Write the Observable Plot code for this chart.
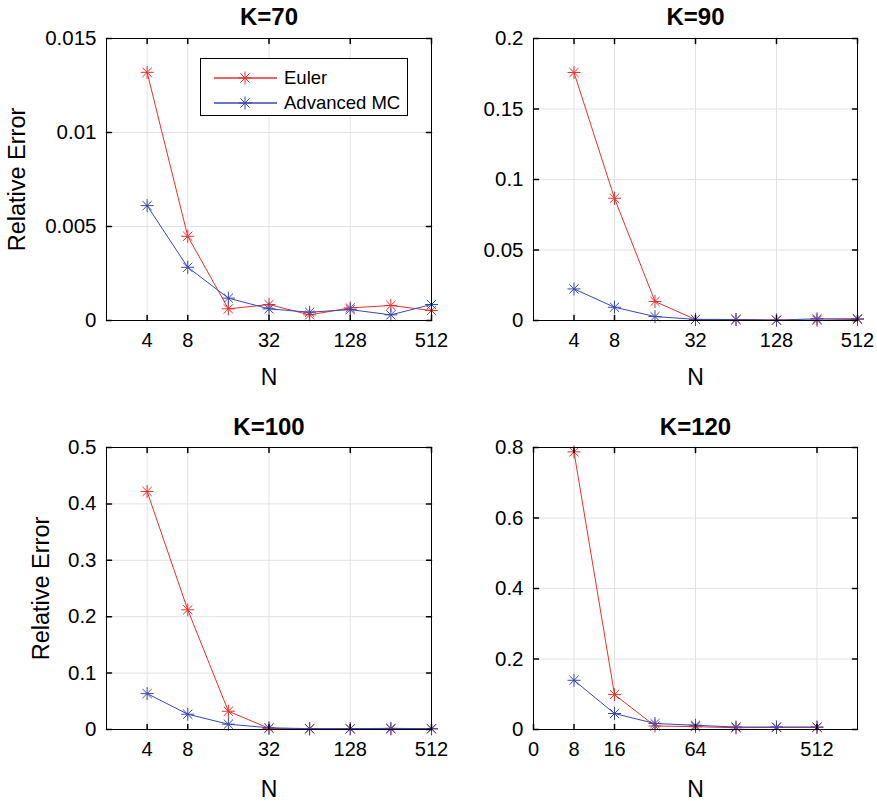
<!DOCTYPE html>
<html>
<head>
<meta charset="utf-8">
<script src="https://cdn.jsdelivr.net/npm/d3@7"></script>
<script src="https://cdn.jsdelivr.net/npm/@observablehq/plot@0.6"></script>
<style>
  html, body { margin: 0; padding: 0; background: white; }
  #root { position: relative; width: 877px; height: 801px; overflow: hidden; font-family: "Liberation Sans", Arial, sans-serif; }
  .panel { position: absolute; }
  #legend { position: absolute; left: 200px; top: 58px; width: 206px; height: 56px; border: 1px solid #000; background: #fff; }
  .lrow { position: absolute; left: 0; height: 24px; display: flex; align-items: center; font-size: 18.5px; color: #000; }
  .lrow svg { margin-left: 13px; margin-right: 6px; }
</style>
</head>
<body>
<div id="root"></div>
<script>
// ---------------- data ----------------
const seriesNames = ["Euler", "Advanced MC"];
const seriesColors = ["#e8302a", "#3748b2"];

const nMain = [4, 8, 16, 32, 64, 128, 256, 512];
const nK120 = [8, 16, 32, 64, 128, 256, 512];

const euler70 = [0.0132, 0.00448, 0.00062, 0.00085, 0.0003, 0.00067, 0.0008, 0.00053];
const mc70    = [0.00611, 0.00283, 0.00119, 0.00062, 0.00044, 0.00058, 0.0003, 0.00085];

const euler90 = [0.1759, 0.0867, 0.0135, 0.0007, 0.0007, 0.0002, 0.0002, 0.0008];
const mc90    = [0.0224, 0.0094, 0.0028, 0.0008, 0.0007, 0.0003, 0.0012, 0.0012];

const euler100 = [0.422, 0.2122, 0.0324, 0.002, 0.001, 0.001, 0.001, 0.001];
const mc100    = [0.0637, 0.0271, 0.0094, 0.003, 0.0015, 0.0015, 0.002, 0.0015];

const euler120 = [0.7876, 0.099, 0.010, 0.008, 0.005, 0.006, 0.006];
const mc120    = [0.1396, 0.0453, 0.017, 0.012, 0.007, 0.007, 0.007];

const xTicksMain = [4, 8, 32, 128, 512];
const xTickLabelsMain = ["4", "8", "32", "128", "512"];
const xTicksK120 = [4, 8, 16, 64, 512];
const xTickLabelsK120 = ["0", "8", "16", "64", "512"];

const yTicks70 = [0, 0.005, 0.01, 0.015];
const yTicks90 = [0, 0.05, 0.1, 0.15, 0.2];
const yTicks100 = [0, 0.1, 0.2, 0.3, 0.4, 0.5];
const yTicks120 = [0, 0.2, 0.4, 0.6, 0.8];

const titles = ["K=70", "K=90", "K=100", "K=120"];
const xLabel = "N";
const yLabel = "Relative Error";

// ---------------- helpers ----------------
const asterisk = {
  draw(ctx, size) {
    const r = Math.sqrt(size / Math.PI);
    const d = r * Math.SQRT1_2;
    ctx.moveTo(-r, 0); ctx.lineTo(r, 0);
    ctx.moveTo(0, -r); ctx.lineTo(0, r);
    ctx.moveTo(-d, -d); ctx.lineTo(d, d);
    ctx.moveTo(-d, d); ctx.lineTo(d, -d);
  }
};
const tickShape = { draw(ctx, l) { ctx.moveTo(0, 0); ctx.lineTo(0, -l); } };

function rows(ns, e, m) {
  const out = [];
  ns.forEach((n, i) => out.push({N: n, v: e[i], s: seriesNames[0]}));
  ns.forEach((n, i) => out.push({N: n, v: m[i], s: seriesNames[1]}));
  return out;
}

function panel(cfg) {
  const {ns, e, m, xDomain, xTicks, xLabels, yTicks, title, showYLabel,
         width, height, mt, mb, ml, mr, titleDy, yLabelDx, nDy} = cfg;
  const data = rows(ns, e, m);
  const fmtX = d => xLabels[xTicks.indexOf(d)];
  const fmtY = d => d === 0 ? "0" : String(+d.toFixed(4));
  const marks = [
    Plot.gridX(xTicks, {stroke: "#e2e2e2", strokeOpacity: 1}),
    Plot.gridY(yTicks, {stroke: "#e2e2e2", strokeOpacity: 1}),
    Plot.line(data, {x: "N", y: "v", z: "s", stroke: "s", strokeWidth: 1}),
    Plot.dot(data, {x: "N", y: "v", stroke: "s", fill: "none", symbol: asterisk, r: 6.5, strokeWidth: 1}),
    Plot.frame({stroke: "#000", strokeWidth: 1}),
    Plot.vector(xTicks, {x: d => d, frameAnchor: "bottom", rotate: 0, anchor: "start", length: 5, shape: tickShape, stroke: "#000"}),
    Plot.vector(xTicks, {x: d => d, frameAnchor: "top", rotate: 180, anchor: "start", length: 5, shape: tickShape, stroke: "#000"}),
    Plot.vector(yTicks, {y: d => d, frameAnchor: "left", rotate: 90, anchor: "start", length: 5, shape: tickShape, stroke: "#000"}),
    Plot.vector(yTicks, {y: d => d, frameAnchor: "right", rotate: -90, anchor: "start", length: 5, shape: tickShape, stroke: "#000"}),
    Plot.axisX({ticks: xTicks, tickFormat: fmtX, tickSize: 0, tickPadding: 12, fontSize: 20, label: null, fill: "#000"}),
    Plot.axisY({ticks: yTicks, tickFormat: fmtY, tickSize: 0, tickPadding: 10, fontSize: 20.5, label: null, fill: "#000"}),
    Plot.text([title], {frameAnchor: "top", dy: titleDy, fontWeight: "bold", fontSize: 24, lineAnchor: "middle", fill: "#000"}),
    Plot.text([xLabel], {frameAnchor: "bottom", dy: nDy, fontSize: 23, lineAnchor: "middle", fill: "#000"})
  ];
  if (showYLabel) {
    marks.push(Plot.text([yLabel], {frameAnchor: "left", textAnchor: "middle", dx: yLabelDx, rotate: -90, fontSize: 23.5, lineAnchor: "middle", fill: "#000"}));
  }
  return Plot.plot({
    width, height,
    marginTop: mt, marginBottom: mb, marginLeft: ml, marginRight: mr,
    style: {fontFamily: '"Liberation Sans", Arial, sans-serif', background: "white", overflow: "visible"},
    x: {type: "log", base: 2, domain: xDomain},
    y: {type: "linear", domain: [yTicks[0], yTicks[yTicks.length - 1]]},
    color: {domain: seriesNames, range: seriesColors},
    marks
  });
}

const root = document.getElementById("root");
function place(node, left, top) {
  const d = document.createElement("div");
  d.className = "panel";
  d.style.left = left + "px";
  d.style.top = top + "px";
  d.appendChild(node);
  root.appendChild(d);
}

place(panel({ns: nMain, e: euler70, m: mc70, xDomain: [2, 512], xTicks: xTicksMain, xLabels: xTickLabelsMain,
  yTicks: yTicks70, title: titles[0], showYLabel: true, width: 450, height: 400,
  mt: 38, mb: 80, ml: 106, mr: 19, titleDy: -21, yLabelDx: -89, nDy: 57}), 0, 0);

place(panel({ns: nMain, e: euler90, m: mc90, xDomain: [2, 512], xTicks: xTicksMain, xLabels: xTickLabelsMain,
  yTicks: yTicks90, title: titles[1], showYLabel: false, width: 427, height: 400,
  mt: 38, mb: 80, ml: 83, mr: 20, titleDy: -21, yLabelDx: -89, nDy: 57}), 450, 0);

place(panel({ns: nMain, e: euler100, m: mc100, xDomain: [2, 512], xTicks: xTicksMain, xLabels: xTickLabelsMain,
  yTicks: yTicks100, title: titles[2], showYLabel: true, width: 450, height: 401,
  mt: 47, mb: 72, ml: 106, mr: 19, titleDy: -20, yLabelDx: -65, nDy: 60}), 0, 400);

place(panel({ns: nK120, e: euler120, m: mc120, xDomain: [4, 1024], xTicks: xTicksK120, xLabels: xTickLabelsK120,
  yTicks: yTicks120, title: titles[3], showYLabel: false, width: 427, height: 401,
  mt: 47, mb: 72, ml: 83, mr: 20, titleDy: -20, yLabelDx: -65, nDy: 60}), 450, 400);

// legend (top-left panel)
const legend = document.createElement("div");
legend.id = "legend";
seriesNames.forEach((name, i) => {
  const row = document.createElement("div");
  row.className = "lrow";
  row.style.top = (7 + i * 25) + "px";
  const svg = d3.create("svg").attr("width", 64).attr("height", 14);
  svg.append("line").attr("x1", 0).attr("x2", 63).attr("y1", 7).attr("y2", 7)
    .attr("stroke", seriesColors[i]).attr("stroke-width", 1.5);
  svg.append("path").attr("transform", "translate(31,7)")
    .attr("stroke", seriesColors[i]).attr("fill", "none")
    .attr("d", () => { const p = d3.path(); asterisk.draw(p, Math.PI * 6.5 * 6.5); return p.toString(); });
  row.appendChild(svg.node());
  const t = document.createElement("span");
  t.textContent = name;
  row.appendChild(t);
  legend.appendChild(row);
});
root.appendChild(legend);
</script>
</body>
</html>
